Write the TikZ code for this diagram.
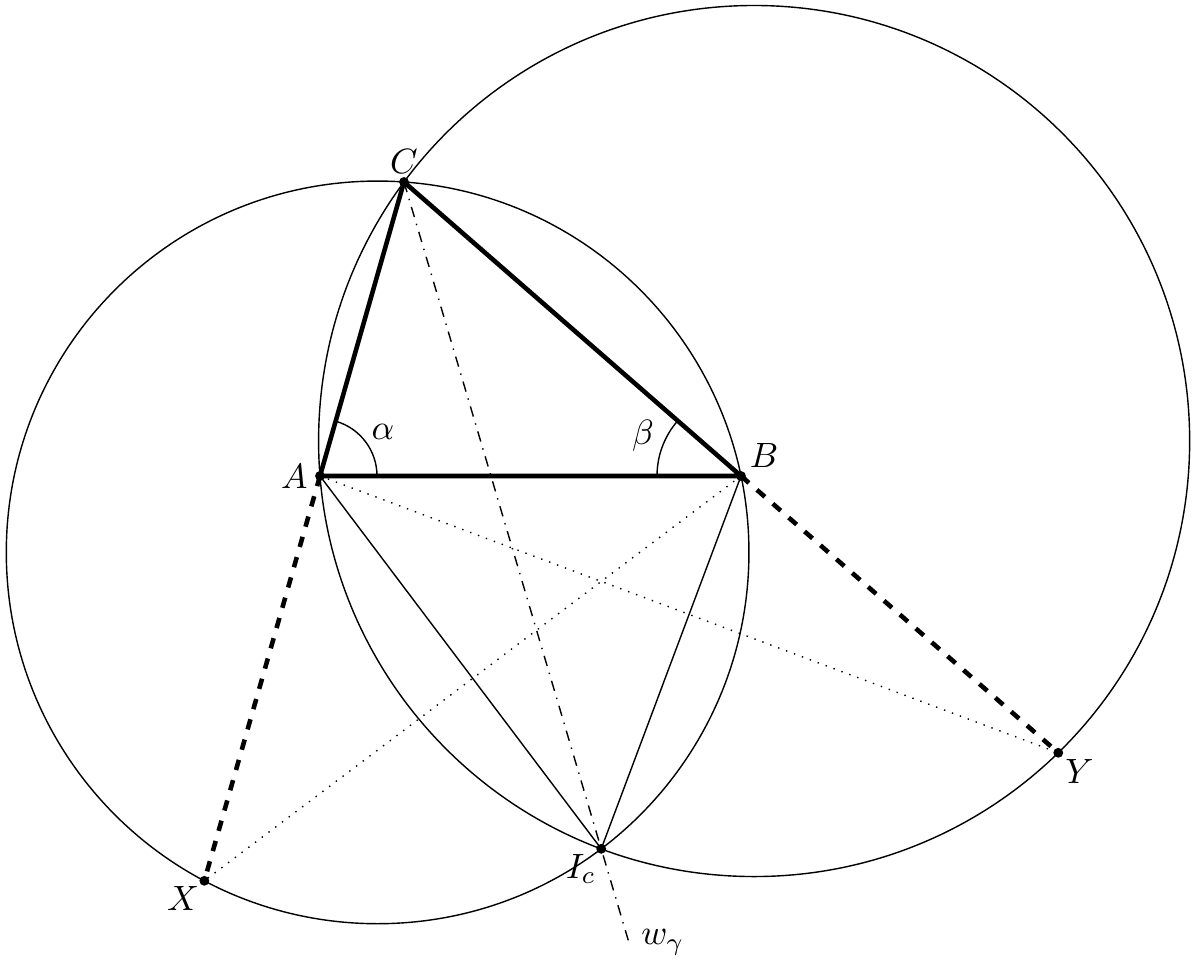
\documentclass[tikz,border=0pt]{standalone}
\usetikzlibrary{calc}
\begin{document}
\begin{tikzpicture}
	[punkt/.style={fill=black,circle,inner sep=0pt,minimum size=2.8pt},
	seite/.style={line width=1.3pt},
	verl/.style={line width=1.3pt,dashed},
	hilf/.style={dotted}]
	\useasboundingbox (-3.20,-4.86) rectangle (8.73,4.76);
	% triangle and constructed points
	\coordinate (A) at (0,0);
	\coordinate (B) at (4.21,0);
	\coordinate (C) at (0.84,2.94);
	\coordinate (X) at (-1.1566,-4.048);
	\coordinate (Y) at (7.3826,-2.7677);
	\coordinate (Ic) at (2.8122,-3.7284);
	\coordinate (O1) at (0.5762,-0.7639);
	\coordinate (O2) at (4.3412,0.3497);
	\coordinate (W) at ($(C)!1.14!(Ic)$);
	% circles
	\draw (O1) circle (3.7132);
	\draw (O2) circle (4.3553);
	% lines
	\draw[dash dot] (C) -- (W) node[right=0pt] {$w_\gamma$};
	\draw[hilf] (A) -- (Y);
	\draw[hilf] (B) -- (X);
	\draw (A) -- (Ic) -- (B);
	\draw[verl] (A) -- (X);
	\draw[verl] (B) -- (Y);
	\draw[seite] (A) -- (B) -- (C) -- cycle;
	% angles
	\draw ([shift={(0:0.57)}]A) arc (0:74.05:0.57);
	\draw ([shift={(180:0.84)}]B) arc (180:138.9:0.84);
	\node at ($(A)+(0.63,0.44)$) {$\alpha$};
	\node at ($(B)+(-0.98,0.40)$) {$\beta$};
	% points
	\node[punkt] (a) at (A) {};
	\node[punkt] (b) at (B) {};
	\node[punkt] (c) at (C) {};
	\node[punkt] (x) at (X) {};
	\node[punkt] (y) at (Y) {};
	\node[punkt] (ic) at (Ic) {};
	\node[left=0pt] at (a) {$A$};
	\node[above right=-1pt] at (b) {$B$};
	\node[above=-1pt] at (c) {$C$};
	\node[below left=-2pt] at (x) {$X$};
	\node[below right=-1.5pt] at (y) {$Y$};
	\node[below left=-2pt] at (ic) {$I_c$};
\end{tikzpicture}
\end{document}
